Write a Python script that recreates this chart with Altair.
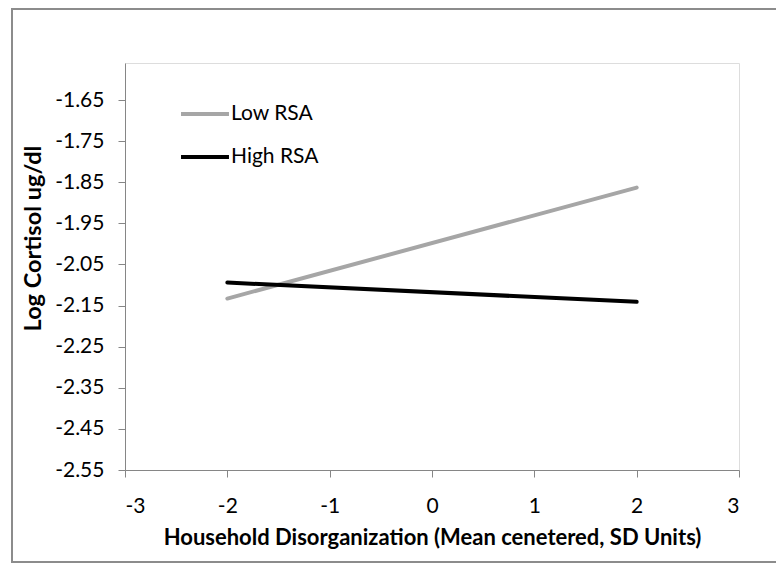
import altair as alt
import pandas as pd

x_vals = [-2, 2]
low_rsa = [-2.133, -1.863]
high_rsa = [-2.094, -2.141]
series_names = ["Low RSA", "High RSA"]
series_colors = ["#a6a6a6", "#000000"]
y_ticks = [-2.55, -2.45, -2.35, -2.25, -2.15, -2.05, -1.95, -1.85, -1.75, -1.65]
x_ticks = [-3, -2, -1, 0, 1, 2, 3]

rows = []
for name, vals in zip(series_names, [low_rsa, high_rsa]):
    for xv, yv in zip(x_vals, vals):
        rows.append({"x": xv, "y": yv, "series": name})
df = pd.DataFrame(rows)

FONT = "Lato"
MINUS = "\u2212"

lines = alt.Chart(df).mark_line(strokeWidth=4, strokeCap="round").encode(
    x=alt.X("x:Q",
            scale=alt.Scale(domain=[-3, 3], nice=False, zero=False),
            axis=alt.Axis(values=x_ticks, grid=False,
                          labelExpr=f"replace(format(datum.value, 'd'), '{MINUS}', '-')",
                          title="Household Disorganization  (Mean cenetered, SD Units)",
                          titleFont=FONT, titleFontSize=22, titleFontWeight="bold",
                          titleColor="#000000", titleY=67, titleBaseline="middle",
                          labelFont=FONT, labelFontSize=21, labelColor="#000000",
                          labelPadding=18, tickSize=7, domainColor="#868686",
                          tickColor="#868686")),
    y=alt.Y("y:Q",
            scale=alt.Scale(domain=[-2.55, -1.56], nice=False, zero=False),
            axis=alt.Axis(values=y_ticks, grid=False,
                          labelExpr=f"replace(format(datum.value, '.2f'), '{MINUS}', '-')",
                          title="Log Cortisol ug/dl",
                          titleFont=FONT, titleFontSize=23.5, titleFontWeight="bold",
                          titleColor="#000000", titleAngle=-90, titleX=-92, titleY=175,
                          titleAlign="center", titleBaseline="middle",
                          labelFont=FONT, labelFontSize=21, labelColor="#000000",
                          labelPadding=14, tickSize=7, domainColor="#868686",
                          tickColor="#868686")),
    color=alt.Color("series:N",
                    scale=alt.Scale(domain=series_names, range=series_colors),
                    legend=alt.Legend(title=None, orient="none", legendX=54, legendY=25,
                                      symbolType="stroke", symbolSize=2300,
                                      symbolStrokeWidth=4, labelFont=FONT,
                                      labelFontSize=21, labelColor="#000000",
                                      labelOffset=0, rowPadding=7, padding=0)),
)

border = alt.Chart(pd.DataFrame({"a": [0]})).mark_rect(
    fill="transparent", stroke="#8c8c8c", strokeWidth=2
).encode(
    x=alt.value(-113), x2=alt.value(700), y=alt.value(-54), y2=alt.value(499)
)

chart = alt.layer(border, lines).properties(
    width=614, height=407,
    autosize=alt.AutoSizeParams(type="none"),
    padding={"left": 117, "top": 55, "right": 37, "bottom": 94},
).configure_view(stroke=None).configure(background="white")

chart.save("out.html", embed_options={"renderer": "svg", "actions": False})
